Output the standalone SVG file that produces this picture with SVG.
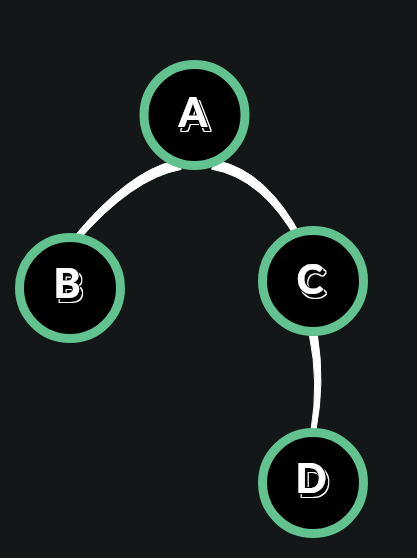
<svg xmlns="http://www.w3.org/2000/svg" width="417" height="558" viewBox="0 0 417 558">
<defs>
<filter id="extrude" x="-30%" y="-30%" width="170%" height="170%">
<feOffset in="SourceAlpha" dx="3" dy="4" result="off"/>
<feMorphology in="off" operator="dilate" radius="1" result="offDil"/>
<feFlood flood-color="#fff" result="white"/>
<feComposite in="white" in2="offDil" operator="in" result="shOutline"/>
<feFlood flood-color="#000" result="black"/>
<feComposite in="black" in2="off" operator="in" result="shFill"/>
<feMorphology in="SourceAlpha" operator="dilate" radius="0.8" result="frDil"/>
<feComposite in="black" in2="frDil" operator="in" result="frOutline"/>
<feMerge>
<feMergeNode in="shOutline"/>
<feMergeNode in="shFill"/>
<feMergeNode in="frOutline"/>
<feMergeNode in="SourceGraphic"/>
</feMerge>
</filter>
</defs>
<style>
.ring{fill:#000;stroke:#62c391;stroke-width:9}
.edge{fill:#fff;stroke:#fff;stroke-width:1;stroke-linejoin:round}
.lbl{font-family:Lato,"Liberation Sans",sans-serif;font-weight:900;font-size:41px;text-anchor:middle;fill:#fff;filter:url(#extrude)}
</style>
<rect width="417" height="558" fill="#141718"/>
<g id="connectors">
<path class="edge" d="M181.2,169.4 Q132.4,178.2 76.8,242.4 L73.2,237.6 Q127.6,171.8 174.8,160.6 Z"/>
<path class="edge" d="M211.4,169.1 Q262.4,178 298,242.25 L302,237.75 Q267.6,172 218.6,160.9 Z"/>
<path class="edge" d="M309.5,336 Q319,382 311,430 L316,430 Q325,382 317.5,336 Z"/>
</g>
<g id="node-A">
<circle class="ring" cx="194.5" cy="115" r="50.5"/>
<text class="lbl" x="193" y="127">A</text>
</g>
<g id="node-B">
<circle class="ring" cx="70" cy="288" r="50.5"/>
<text class="lbl" x="67" y="298">B</text>
</g>
<g id="node-C">
<circle class="ring" cx="313" cy="281" r="50.5"/>
<text class="lbl" x="310" y="294">C</text>
</g>
<g id="node-D">
<circle class="ring" cx="313" cy="483" r="50.5"/>
<text class="lbl" x="311" y="493">D</text>
</g>
</svg>
